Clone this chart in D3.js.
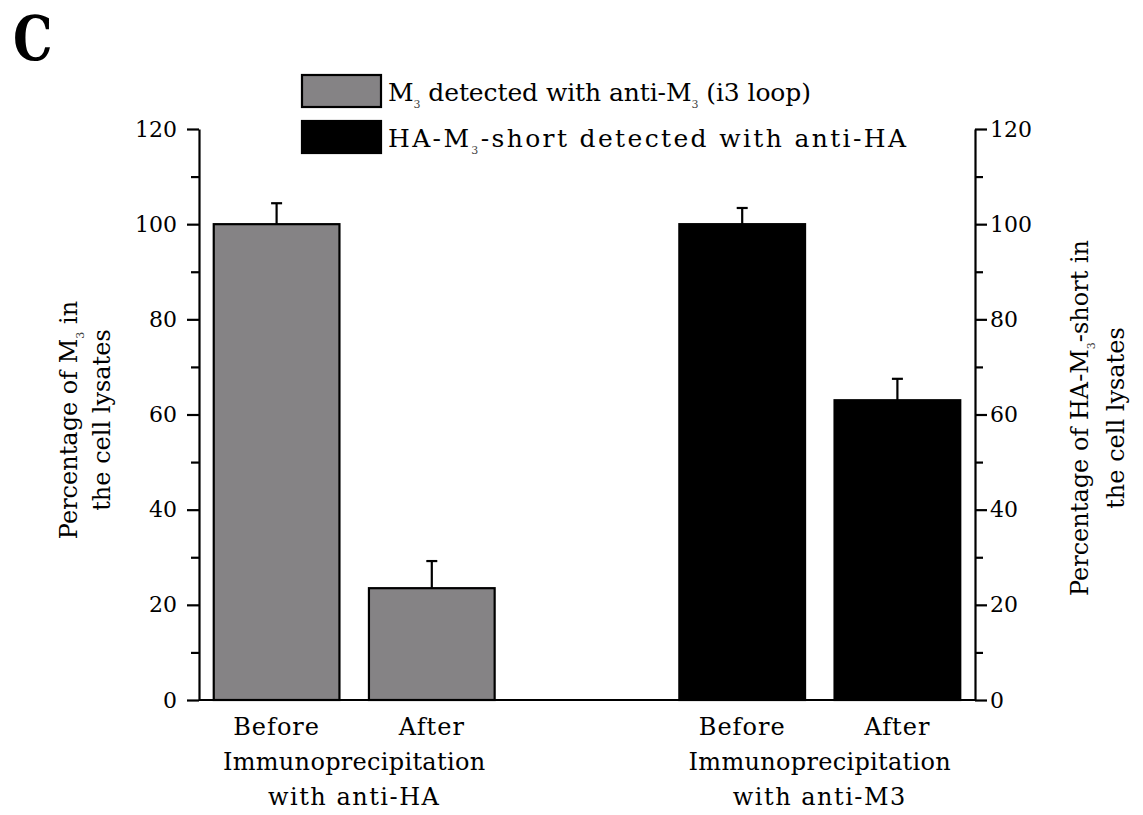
<!DOCTYPE html>
<html>
<head>
<meta charset="utf-8">
<script src="https://cdn.jsdelivr.net/npm/d3@7"></script>
<style>
  html, body { margin: 0; padding: 0; background: #fff; }
  svg { display: block; }
  text { font-family: "DejaVu Serif", "Liberation Serif", serif; fill: #000; }
</style>
</head>
<body>
<svg id="chart" width="1143" height="815"></svg>
<script>
// Bar categories (slot keys; the empty slot separates the two groups)
const slots = ["g1-before", "g1-after", "gap", "g2-before", "g2-after"];
const barSlots = ["g1-before", "g1-after", "g2-before", "g2-after"];
const barLabels = ["Before", "After", "Before", "After"];
const barSeries = [0, 0, 1, 1];
const barValues = [100, 23.5, 100, 63];
const barErrors = [4.4, 5.7, 3.4, 4.5];

// Group captions under each pair of bars
const groupLines = [
  ["Immunoprecipitation", "with anti-HA"],
  ["Immunoprecipitation", "with anti-M3"]
];

// Axis ticks
const majorTicks = [0, 20, 40, 60, 80, 100, 120];
const minorTicks = [10, 30, 50, 70, 90, 110];

const seriesFill = ["#858385", "#000000"];

const svg = d3.select("#chart");

const x = d3.scaleBand().domain(slots).range([199, 975])
  .paddingInner(0.19).paddingOuter(0.095);
const y = d3.scaleLinear().domain([0, 120]).range([700, 129]);

// Panel letter
svg.append("text").attr("transform", "translate(13,60) scale(0.8,1)")
  .attr("font-family", "Liberation Serif, serif")
  .attr("font-weight", "bold").attr("font-size", 62).text("C");

// Bars
svg.append("g").selectAll("rect").data(barValues).join("rect")
  .attr("x", (d, i) => x(barSlots[i]))
  .attr("width", x.bandwidth())
  .attr("y", d => y(d))
  .attr("height", d => y(0) - y(d))
  .attr("fill", (d, i) => seriesFill[barSeries[i]])
  .attr("stroke", "#000").attr("stroke-width", 2.2);

// Error bars (upper whisker only)
const eb = svg.append("g").attr("stroke", "#000").attr("stroke-width", 2.2);
barValues.forEach((v, i) => {
  const cx = x(barSlots[i]) + x.bandwidth() / 2;
  eb.append("line").attr("x1", cx).attr("x2", cx)
    .attr("y1", y(v)).attr("y2", y(v + barErrors[i]));
  eb.append("line").attr("x1", cx - 5.5).attr("x2", cx + 5.5)
    .attr("y1", y(v + barErrors[i])).attr("y2", y(v + barErrors[i]));
});

// Baseline between the two axes
svg.append("line").attr("x1", x.range()[0]).attr("x2", x.range()[1])
  .attr("y1", y(0)).attr("y2", y(0))
  .attr("stroke", "#000").attr("stroke-width", 2.2);

function styleAxis(g) {
  g.selectAll("path, line").attr("stroke", "#000").attr("stroke-width", 2.2);
  g.selectAll("text").attr("font-family", "DejaVu Serif, serif")
    .attr("font-size", 22).attr("fill", "#000");
}

// Left axis
const leftG = svg.append("g").attr("transform", `translate(${x.range()[0]},0)`);
leftG.call(d3.axisLeft(y).tickValues(majorTicks).tickSize(12).tickSizeOuter(0).tickPadding(10))
  .call(styleAxis);
leftG.append("g").call(d3.axisLeft(y).tickValues(minorTicks).tickSize(8).tickFormat(""))
  .call(g => g.select(".domain").remove()).call(styleAxis);

// Right axis
const rightG = svg.append("g").attr("transform", `translate(${x.range()[1]},0)`);
rightG.call(d3.axisRight(y).tickValues(majorTicks).tickSize(12).tickSizeOuter(0).tickPadding(3))
  .call(styleAxis);
rightG.append("g").call(d3.axisRight(y).tickValues(minorTicks).tickSize(8).tickFormat(""))
  .call(g => g.select(".domain").remove()).call(styleAxis);

// Category labels
svg.append("g").selectAll("text").data(barLabels).join("text")
  .attr("x", (d, i) => x(barSlots[i]) + x.bandwidth() / 2)
  .attr("y", 735).attr("text-anchor", "middle").attr("font-size", 24)
  .attr("letter-spacing", 1)
  .text(d => d);

groupLines.forEach((lines, gi) => {
  const a = barSlots[gi * 2], b = barSlots[gi * 2 + 1];
  const cx = (x(a) + x(b) + x.bandwidth()) / 2;
  lines.forEach((t, li) => {
    svg.append("text").attr("x", cx).attr("y", 770 + li * 35)
      .attr("text-anchor", "middle").attr("font-size", 24)
      .attr("letter-spacing", li === 1 ? 1.5 : 0.3).text(t);
  });
});

// Text with a small subscript "3" after each M
function withSub(sel, parts) {
  let lowered = false;
  parts.forEach(p => {
    if (p === "_3") {
      sel.append("tspan").attr("font-size", 11).attr("dy", 7).attr("fill", "#444").text("3");
      lowered = true;
    } else {
      const t = sel.append("tspan").text(p);
      if (lowered) { t.attr("dy", -7); lowered = false; }
    }
  });
  return sel;
}

// Axis titles
const lt = svg.append("g").attr("transform", "translate(77,420) rotate(-90)");
withSub(lt.append("text").attr("text-anchor", "middle").attr("font-size", 24),
  ["Percentage of M", "_3", " in"]);
lt.append("text").attr("y", 33).attr("text-anchor", "middle").attr("font-size", 24)
  .text("the cell lysates");

const rt = svg.append("g").attr("transform", "translate(1088,418) rotate(-90)");
withSub(rt.append("text").attr("text-anchor", "middle").attr("font-size", 24),
  ["Percentage of HA-M", "_3", "-short in"]);
rt.append("text").attr("y", 36).attr("text-anchor", "middle").attr("font-size", 24)
  .text("the cell lysates");

// Legend
const legendItems = [
  ["M", "_3", " detected with anti-M", "_3", " (i3 loop)"],
  ["HA-M", "_3", "-short detected with anti-HA"]
];
const legendWidths = [423, 518];
const lg = svg.append("g");
legendItems.forEach((parts, i) => {
  const top = 75 + i * 46;
  lg.append("rect").attr("x", 302).attr("y", top).attr("width", 79).attr("height", 32)
    .attr("fill", seriesFill[i]).attr("stroke", "#000").attr("stroke-width", 2.2);
  withSub(lg.append("text").attr("x", 388).attr("y", top + 26).attr("font-size", 25)
    .attr("textLength", legendWidths[i]).attr("lengthAdjust", "spacing"), parts);
});
</script>
</body>
</html>
